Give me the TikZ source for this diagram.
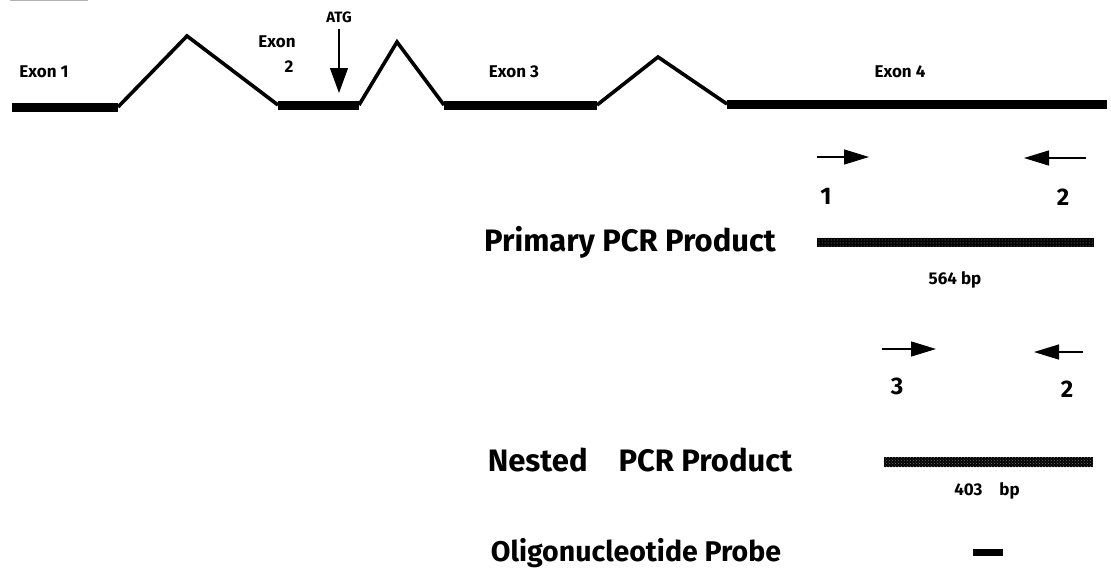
\documentclass[tikz,border=0pt]{standalone}
\usepackage{fontspec}
\setmainfont{Fira Sans}
\usetikzlibrary{arrows.meta,patterns}
\begin{document}
\begin{tikzpicture}[x=1pt,y=-1pt,
  lbl/.style={font=\bfseries\fontsize{17}{19}\selectfont, inner sep=0pt},
  big/.style={font=\bfseries\fontsize{31}{34}\selectfont, inner sep=0pt},
  num/.style={font=\bfseries\fontsize{24}{26}\selectfont, inner sep=0pt},
  exon/.style={line width=9pt},
  intron/.style={line width=3.6pt, line join=miter},
  primer/.style={line width=1.3pt, -{Triangle[length=25pt,width=15pt]}},
  prodA/.style={fill=black, postaction={pattern=dots, pattern color=white!65!black}},
  prodB/.style={fill=black, postaction={pattern=crosshatch dots, pattern color=white!45!black}}
]
\useasboundingbox (0,0) rectangle (1111,579);
\draw[gray!60, line width=1.2pt] (10,0.6) -- (88,0.6);
% gene
\coordinate (e1a) at (12,107); \coordinate (e1b) at (118,107);
\coordinate (p1) at (187,36);
\coordinate (e2a) at (278,105); \coordinate (e2b) at (359,105);
\coordinate (p2) at (397,42);
\coordinate (e3a) at (444,105); \coordinate (e3b) at (597,105);
\coordinate (p3) at (658,57);
\coordinate (e4a) at (727,104); \coordinate (e4b) at (1107,104);
\draw[exon] (e1a) -- (e1b);
\draw[exon] (e2a) -- (e2b);
\draw[exon] (e3a) -- (e3b);
\draw[exon] (e4a) -- (e4b);
\draw[intron] (e1b) -- (p1) -- (e2a);
\draw[intron] (e2b) -- (p2) -- (e3a);
\draw[intron] (e3b) -- (p3) -- (e4a);
\node[lbl] (x1) at (44,72) {Exon 1};
\node[lbl] (x2) at (277,42) {Exon};
\node[lbl] (x2n) at (289,67) {2};
\node[lbl] (x3) at (514,72) {Exon 3};
\node[lbl] (x4) at (900,72) {Exon 4};
\node[font=\bfseries\fontsize{15}{17}\selectfont, inner sep=0pt] (atg) at (339,17) {ATG};
\coordinate (atgend) at (339,93);
\draw[line width=1.2pt, -{Triangle[length=25pt,width=18pt]}] (339,29) -- (atgend);
% primary
\coordinate (a1s) at (817,157); \coordinate (a1e) at (869,157);
\coordinate (a2s) at (1086,158); \coordinate (a2e) at (1024,158);
\draw[primer] (a1s) -- (a1e);
\draw[primer] (a2s) -- (a2e);
\node[num] (n1) at (826,196) {1};
\node[num] (n2) at (1063,197) {2};
\node[big] (prim) at (630,242) {Primary PCR Product};
\path[prodA] (817,237.5) rectangle (1094,247);
\node[lbl] (bp1) at (955,280) {564 bp};
% nested
\coordinate (a3s) at (882,349); \coordinate (a3e) at (936,349);
\coordinate (a4s) at (1083,352); \coordinate (a4e) at (1034,352);
\draw[primer] (a3s) -- (a3e);
\draw[primer] (a4s) -- (a4e);
\node[num] (n3) at (897,386) {3};
\node[num] (n4) at (1067,389) {2};
\node[big] (nest) at (640,460) {Nested\quad PCR Product};
\path[prodB] (884,457) rectangle (1093,467);
\node[lbl] (bp2) at (987,491) {403\quad bp};
% probe
\node[big, font=\bfseries\fontsize{28.5}{31}\selectfont] (probe) at (636,553) {Oligonucleotide Probe};
\path[fill=black] (973,549) rectangle (1003,556);
\end{tikzpicture}
\end{document}
